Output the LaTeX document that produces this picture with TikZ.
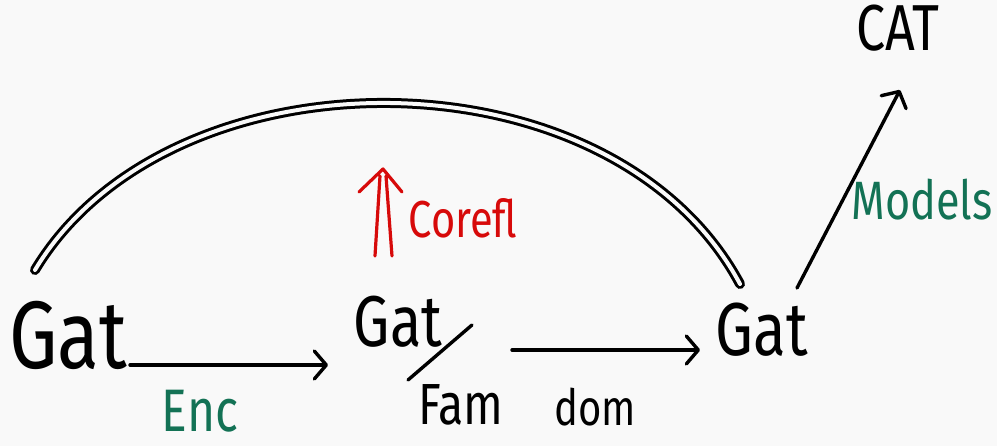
\documentclass[tikz,border=0pt]{standalone}
\usepackage{fontspec}
\setmainfont{Fira Sans}[FakeStretch=0.8]
\usetikzlibrary{arrows.meta}
\definecolor{bgc}{HTML}{F9F9F9}
\definecolor{grn}{HTML}{137255}
\definecolor{redc}{HTML}{D70A0A}
\tikzset{
  lbl/.style={inner sep=0pt, anchor=center},
  stroke/.style={line width=3.4pt, line cap=round, line join=round},
  arr/.style={stroke, -{Straight Barb[length=12pt,width=28pt,line width=3.4pt,round]}},
}
\begin{document}
\begin{tikzpicture}[x=1pt,y=-1pt]
\fill[bgc] (0,0) rectangle (997,446);
\useasboundingbox (0,0) rectangle (997,446);
% nodes
\node[lbl, font=\fontsize{96}{96}\selectfont] (gatL) at (68,335) {Gat};
\node[lbl, font=\fontsize{72}{72}\selectfont] (gatM) at (398,322) {Gat};
\node[lbl, font=\fontsize{75}{75}\selectfont] (gatR) at (762,330) {Gat};
\node[lbl, font=\fontsize{65}{65}\selectfont] (cat) at (898,28) {CAT};
\node[lbl, font=\fontsize{58}{58}\selectfont] (fam) at (461,405) {Fam};
\node[lbl, font=\fontsize{50}{50}\selectfont] (dom) at (595,407) {dom};
\node[lbl, font=\fontsize{60}{60}\selectfont, text=grn] (enc) at (200,411) {Enc};
\node[lbl, font=\fontsize{54}{54}\selectfont, text=grn] (models) at (922,200) {Models};
\node[lbl, font=\fontsize{52}{52}\selectfont, text=redc] (corefl) at (463,218) {Corefl};
% connectors
\draw[arr] ([shift={(62,30)}]gatL.center) -- ([shift={(-70,43)}]gatM.center);
\draw[arr] ([shift={(114,28)}]gatM.center) -- ([shift={(-62,20)}]gatR.center);
\draw[arr] ([shift={(35,-42)}]gatR.center) -- ([shift={(2,62)}]cat.center);
% slash of the quotient
\draw[stroke] ([shift={(10,58)}]gatM.center) -- ([shift={(74,3)}]gatM.center);
% double arc
\draw[line width=3pt, double=bgc, double distance=4pt, line cap=round]
  ([shift={(-33,-65)}]gatL.center) .. controls (170,45) and (612,45) .. ([shift={(-22,-46)}]gatR.center);
% 2-cell (double arrow)
\draw[redc, line width=3.2pt, line cap=round, line join=round]
  ([shift={(-88,38)}]corefl.center) -- ([shift={(-83,-42)}]corefl.center)
  ([shift={(-71,38)}]corefl.center) -- ([shift={(-77,-42)}]corefl.center)
  ([shift={(-104,-26)}]corefl.center) -- ([shift={(-80,-49)}]corefl.center)
  -- ([shift={(-61,-26)}]corefl.center);
\end{tikzpicture}
\end{document}
